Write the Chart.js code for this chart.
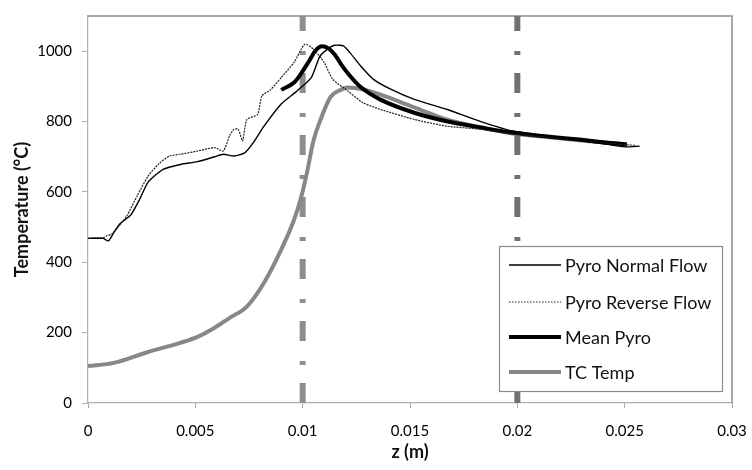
<!DOCTYPE html>
<html>
<head>
<meta charset="utf-8">
<script src="https://cdn.jsdelivr.net/npm/chart.js@4/dist/chart.umd.min.js"></script>
<style>
    html, body { margin: 0; padding: 0; background: #fff; }
    #wrap { width: 752px; height: 470px; }
</style>
</head>
<body>
<div id="wrap"><canvas id="chart-temp" width="752" height="470"></canvas></div>
<script>
/* global Chart */

// axial position (m) and temperature (°C) for each trace
const normalZ = [0, 0.0007, 0.00095, 0.0012, 0.0015, 0.002, 0.0024, 0.0028, 0.0035, 0.0043, 0.0051, 0.0059, 0.0063, 0.0068, 0.0073, 0.0077, 0.0082, 0.009, 0.0097, 0.0104, 0.0108, 0.0112, 0.0115, 0.0119, 0.0122, 0.0127, 0.0133, 0.0141, 0.0152, 0.0167, 0.0183, 0.0198, 0.0215, 0.023, 0.0242, 0.025, 0.0257];
const normalT = [468, 468, 461, 484, 510, 535, 578, 628, 664, 678, 686, 700, 707, 702, 711, 740, 787, 850, 885, 925, 985, 1008, 1017, 1015, 996, 958, 920, 892, 863, 835, 800, 773, 758, 745, 735, 728, 730];

const reverseZ = [0, 0.0007, 0.0009, 0.0011, 0.0014, 0.0018, 0.0023, 0.0028, 0.0033, 0.0038, 0.0043, 0.0051, 0.0059, 0.0063, 0.0066, 0.0068, 0.007, 0.0072, 0.0074, 0.0079, 0.0081, 0.0085, 0.009, 0.0096, 0.0101, 0.0105, 0.011, 0.0114, 0.0121, 0.0128, 0.0136, 0.0152, 0.0167, 0.0183, 0.0198, 0.0215, 0.023, 0.0245, 0.0255];
const reverseT = [468, 470, 476, 480, 500, 531, 590, 645, 680, 702, 707, 716, 726, 716, 760, 778, 778, 745, 806, 820, 873, 890, 925, 968, 1020, 1006, 968, 920, 887, 854, 835, 806, 787, 778, 764, 755, 745, 737, 732];

const meanZ = [0.009, 0.0096, 0.0099, 0.0103, 0.0106, 0.0109, 0.0112, 0.0115, 0.0118, 0.0122, 0.0127, 0.0136, 0.0152, 0.0167, 0.0183, 0.0198, 0.0215, 0.023, 0.0242, 0.0251];
const meanT = [890, 911, 934, 972, 1002, 1014, 1008, 990, 962, 930, 898, 863, 825, 801, 783, 768, 757, 748, 740, 735];

const tcZ = [0, 0.0012, 0.0028, 0.0043, 0.0051, 0.0059, 0.0066, 0.0074, 0.0082, 0.009, 0.0096, 0.0099, 0.0102, 0.0105, 0.0108, 0.0113, 0.0117, 0.0121, 0.0128, 0.0136, 0.0152, 0.0167, 0.0183, 0.0198, 0.0215, 0.023, 0.0251];
const tcT = [105, 114, 145, 171, 188, 214, 242, 274, 342, 436, 521, 578, 655, 745, 800, 870, 888, 897, 892, 877, 840, 806, 783, 766, 755, 746, 735];

// dash-dot markers across the full height
const markerZ = [0.01, 0.02];

const xTicks = [0, 0.005, 0.01, 0.015, 0.02, 0.025, 0.03];
const xTickLabels = ['0', '0.005', '0.01', '0.015', '0.02', '0.025', '0.03'];
const yTicks = [0, 200, 400, 600, 800, 1000];
const yMax = 1100;

const seriesNames = ['Pyro Normal Flow', 'Pyro Reverse Flow', 'Mean Pyro', 'TC Temp'];

const FONT = 'Lato, "Open Sans", sans-serif';

function toPoints(xs, ys) {
    return xs.map((x, i) => ({ x, y: ys[i] }));
}

function markerDataset(z, color) {
    return {
        label: '',
        data: [{ x: z, y: 0 }, { x: z, y: yMax }],
        borderColor: color,
        borderWidth: 6,
        borderDash: [20, 18, 4, 20],
        borderCapStyle: 'butt',
        pointRadius: 0,
        order: 9,
        inLegend: false,
    };
}

// frame on the top and right sides of the plot
const framePlugin = {
    id: 'frame',
    beforeDatasetsDraw(chart) {
        const { ctx, chartArea: a } = chart;
        ctx.save();
        ctx.strokeStyle = '#8c8c8c';
        ctx.lineWidth = 1.5;
        ctx.beginPath();
        ctx.moveTo(a.left, a.top);
        ctx.lineTo(a.right, a.top);
        ctx.lineTo(a.right, a.bottom);
        ctx.stroke();
        ctx.restore();
    },
};

// boxed legend in the lower right corner of the plot
const boxLegendPlugin = {
    id: 'boxLegend',
    afterDraw(chart) {
        const { ctx, chartArea: a } = chart;
        const left = a.right - 233;
        const top = a.top + 230;
        const w = 223;
        const h = 145;
        ctx.save();
        ctx.fillStyle = '#fff';
        ctx.fillRect(left, top, w, h);
        ctx.strokeStyle = '#8a8a8a';
        ctx.lineWidth = 1.2;
        ctx.strokeRect(left + 0.5, top + 0.5, w, h);

        const rows = chart.data.datasets.filter(ds => ds.inLegend !== false);
        const rowY = [19, 56, 91, 126];
        ctx.font = `18px ${FONT}`;
        ctx.textBaseline = 'middle';
        rows.forEach((ds, i) => {
            const y = top + rowY[i];
            ctx.strokeStyle = ds.borderColor;
            ctx.lineWidth = ds.borderWidth;
            ctx.setLineDash(i === 1 ? [1.5, 1.5] : []);
            ctx.beginPath();
            ctx.moveTo(left + 10, y);
            ctx.lineTo(left + 62, y);
            ctx.stroke();
            ctx.setLineDash([]);
            ctx.fillStyle = '#111';
            ctx.fillText(ds.label, left + 66, y + 1);
        });
        ctx.restore();
    },
};

function createTemperatureChart() {
    const canvas = document.getElementById('chart-temp');

    return new Chart(canvas, {
        type: 'scatter',
        data: {
            datasets: [
                {
                    label: seriesNames[0],
                    data: toPoints(normalZ, normalT),
                    borderColor: '#000',
                    borderWidth: 1.4,
                    tension: 0.2,
                    order: 1,
                },
                {
                    label: seriesNames[1],
                    data: toPoints(reverseZ, reverseT),
                    borderColor: '#222',
                    borderWidth: 1.2,
                    borderDash: [2, 1],
                    tension: 0.2,
                    order: 2,
                },
                {
                    label: seriesNames[2],
                    data: toPoints(meanZ, meanT),
                    borderColor: '#000',
                    borderWidth: 4,
                    cubicInterpolationMode: 'monotone',
                    order: 3,
                },
                {
                    label: seriesNames[3],
                    data: toPoints(tcZ, tcT),
                    borderColor: '#878787',
                    borderWidth: 4,
                    cubicInterpolationMode: 'monotone',
                    order: 4,
                },
                markerDataset(markerZ[0], '#8e8e8e'),
                markerDataset(markerZ[1], '#717171'),
            ],
        },
        options: {
            responsive: false,
            animation: false,
            showLine: true,
            elements: {
                point: { radius: 0, hoverRadius: 0 },
                line: { fill: false },
            },
            layout: {
                padding: { left: 0, right: 20, top: 16, bottom: 0 },
            },
            plugins: {
                legend: { display: false },
                tooltip: { enabled: false },
            },
            scales: {
                x: {
                    type: 'linear',
                    min: 0,
                    max: 0.03,
                    afterBuildTicks(scale) {
                        scale.ticks = xTicks.map(v => ({ value: v }));
                    },
                    afterFit(scale) {
                        scale.height = 67;
                        scale.paddingLeft = 0;
                        scale.paddingRight = 0;
                    },
                    ticks: {
                        color: '#000',
                        font: { family: FONT, size: 15 },
                        padding: 14,
                        maxRotation: 0,
                        callback: (value) => xTickLabels[xTicks.indexOf(value)] ?? '',
                    },
                    grid: {
                        drawOnChartArea: false,
                        drawTicks: true,
                        tickLength: 5,
                        color: '#a8a8a8',
                    },
                    border: { color: '#b0b0b0', width: 1.2 },
                    title: {
                        display: true,
                        text: 'z (m)',
                        color: '#111',
                        font: { family: FONT, size: 18, weight: 'bold' },
                        padding: { top: 0, bottom: 7 },
                    },
                },
                y: {
                    type: 'linear',
                    min: 0,
                    max: yMax,
                    afterBuildTicks(scale) {
                        scale.ticks = yTicks.map(v => ({ value: v }));
                    },
                    afterFit(scale) {
                        scale.width = 88;
                        scale.paddingTop = 0;
                        scale.paddingBottom = 0;
                    },
                    ticks: {
                        color: '#000',
                        font: { family: FONT, size: 15 },
                        padding: 10,
                        callback: (value) => String(value),
                    },
                    grid: {
                        drawOnChartArea: false,
                        drawTicks: true,
                        tickLength: 6,
                        color: '#a8a8a8',
                    },
                    border: { color: '#b0b0b0', width: 1.2 },
                    title: {
                        display: true,
                        text: 'Temperature (°C)',
                        color: '#111',
                        font: { family: FONT, size: 18, weight: 'bold' },
                        padding: { top: 11, bottom: 0 },
                    },
                },
            },
        },
        plugins: [framePlugin, boxLegendPlugin],
    });
}

createTemperatureChart();
</script>
</body>
</html>
